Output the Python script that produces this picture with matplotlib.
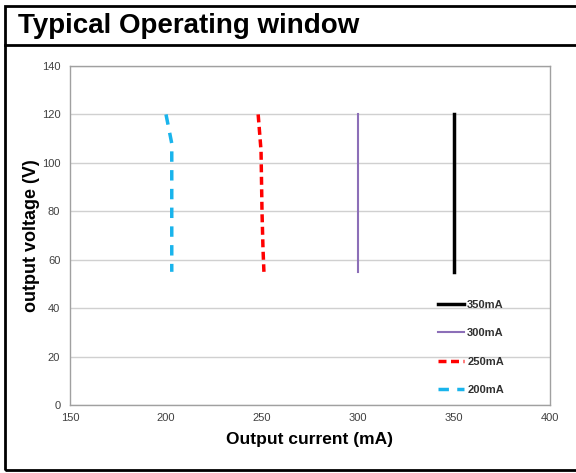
import matplotlib
matplotlib.use("Agg")
import matplotlib.pyplot as plt
from matplotlib.lines import Line2D
from matplotlib.patches import Rectangle

plt.rcParams['font.family'] = ['Liberation Sans', 'DejaVu Sans']

title = "Typical Operating window"
x_label = "Output current (mA)"
y_label = "output voltage (V)"

series_names = ["350mA", "300mA", "250mA", "200mA"]
current_350 = [350, 350]
voltage_350 = [55, 120]
current_300 = [300, 300]
voltage_300 = [55, 120]
current_250 = [248, 249.5, 250, 250.5, 251]
voltage_250 = [120, 105, 80, 65, 55]
current_200 = [200, 203, 203]
voltage_200 = [120, 108, 55]

x_ticks = [150, 200, 250, 300, 350, 400]
y_ticks = [0, 20, 40, 60, 80, 100, 120, 140]

W, H = 576, 473
fig = plt.figure(figsize=(W / 100, H / 100), dpi=100)

# outer frame and title band
fig.add_artist(Rectangle((5 / W, 3 / H), (W + 5) / W, (H - 6 - 3) / H, transform=fig.transFigure,
                         fill=False, edgecolor='black', linewidth=2))
fig.add_artist(Line2D([5 / W, 1], [1 - 45 / H, 1 - 45 / H], transform=fig.transFigure,
                      color='black', linewidth=2))
fig.text(18 / W, 1 - 26 / H, title, fontsize=20, fontweight='bold', va='center', ha='left')

ax = fig.add_axes([70 / W, 1 - 405 / H, (550 - 70) / W, (405 - 66) / H])

ax.plot(current_350, voltage_350, color='black', linewidth=2.5, label=series_names[0])
ax.plot(current_300, voltage_300, color='#8c6fb8', linewidth=1.5, label=series_names[1])
ax.plot(current_250, voltage_250, color='#ff0000', linewidth=2.5, linestyle=(0, (2.3, 1.3)), label=series_names[2])
ax.plot(current_200, voltage_200, color='#19b4ec', linewidth=2.5, linestyle=(0, (3, 2.4)), label=series_names[3])

ax.set_xlim(150, 400)
ax.set_ylim(0, 140)
ax.set_xticks(x_ticks)
ax.set_yticks(y_ticks)
ax.tick_params(axis='both', length=0, labelsize=8, colors='#404040')
ax.tick_params(axis='y', pad=7)
ax.tick_params(axis='x', pad=6)
ax.yaxis.grid(True, color='#d0d0d0', linewidth=1)
ax.set_axisbelow(True)
for s in ax.spines.values():
    s.set_color('#a0a0a0')
    s.set_linewidth(1)

ax.set_xlabel(x_label, fontsize=12.5, fontweight='bold', labelpad=6)
ax.set_ylabel(y_label, fontsize=13, fontweight='bold', labelpad=1)

leg = ax.legend(loc='lower right', bbox_to_anchor=(0.925, 0.0), frameon=False,
                prop={'size': 8, 'weight': 'bold'}, handlelength=2.3, handletextpad=0.3,
                labelspacing=1.65, labelcolor='#303030')

fig.savefig("out.png", dpi=100)
